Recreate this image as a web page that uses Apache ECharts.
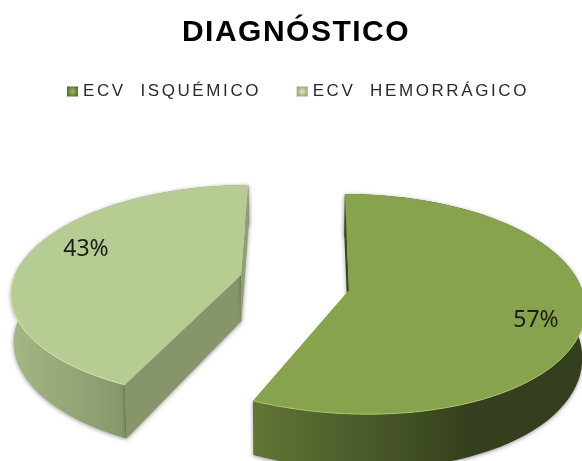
<!DOCTYPE html>
<html>
<head>
<meta charset="utf-8">
<style>html,body{margin:0;padding:0;background:#fff}#c{width:582px;height:461px}</style>
<script src="https://cdn.jsdelivr.net/npm/echarts@6/dist/echarts.min.js"></script>
</head>
<body>
<div id="c"></div>
<script>
var categories = ['ECV  ISQUÉMICO', 'ECV  HEMORRÁGICO'];
var percentValues = [57, 43];
var titleText = 'DIAGNÓSTICO';

var total = percentValues[0] + percentValues[1];
var VX = 295;               // horizontal vanishing axis of the perspective
var looks = [
  { ax: 349, ay: 290, D: 846, k: 0.128, R: 233, shx: 11, bx: 2, thick: 48, top: '#88a34e', rim: '#a9c466',
    wallA: '#637536', wallB: '#34401d', wallX: [253, 470], back: '#3a471f', cut: null, lx: 536, ly: 320 },
  { ax: 241, ay: 275, D: 663, k: 0.157, R: 226, shx: 6, bx: 0, thick: 46, top: '#b7cc93', rim: '#d3e6ae',
    wallA: '#a5b784', wallB: '#87966a', wallX: [11, 126], back: '#919f74', cut: '#87966a', lx: 86, ly: 249 }
];

function project(c, deg, lower) {
  var u = 0, v = 0;
  if (deg !== null) {
    var t = deg * Math.PI / 180;
    u = Math.sin(t); v = -Math.cos(t);
  }
  var s = 1 / (1 - c.k * v);
  var x = VX + (c.ax - VX + c.R * u) * s + (v > 0 ? c.shx : c.bx) * v * v;
  var y = c.ay + c.D * (s - 1);
  if (lower) { x = VX + (x - VX) * 0.99; y += c.thick * s; }
  return [x, y];
}

function makeRender(idx) {
  return function (params, api) {
    var c = looks[idx];
    var before = 0;
    for (var i = 0; i < idx; i++) before += percentValues[i];
    var value = api.value(0);
    var a0 = before / total * 360, a1 = (before + value) / total * 360;
    var upper = [], lowerPts = [];
    var n = 72;
    for (var j = 0; j <= n; j++) {
      var d = a0 + (a1 - a0) * j / n;
      upper.push(project(c, d)); lowerPts.push(project(c, d, true));
    }
    var apexT = project(c, null), apexB = project(c, null, true);
    var top = [apexT].concat(upper);
    var shadow = { shadowBlur: 4, shadowColor: 'rgba(0,0,0,0.4)', shadowOffsetY: 1 };
    var wall = upper.concat(lowerPts.slice().reverse());
    var wallFill = new echarts.graphic.LinearGradient(c.wallX[0], 0, c.wallX[1], 0,
      [{ offset: 0, color: c.wallA }, { offset: 1, color: c.wallB }], true);
    var kids = [];
    kids.push({ type: 'polygon', shape: { points: wall },
      style: Object.assign({ fill: wallFill }, shadow) });
    if (c.cut) {
      kids.push({ type: 'polygon',
        shape: { points: [apexT, project(c, a0), project(c, a0, true), apexB] },
        style: Object.assign({ fill: c.cut }, shadow) });
    }
    kids.push({ type: 'polygon',
      shape: { points: [project(c, 360), project(c, 360, true), apexB, apexT] },
      style: Object.assign({ fill: c.back }, shadow) });
    kids.push({ type: 'polygon', shape: { points: top }, style: { fill: c.top } });
    var rim = upper.filter(function (p, q) {
      var d = a0 + (a1 - a0) * q / n;
      return Math.cos(d * Math.PI / 180) < 0;
    });
    kids.push({ type: 'polyline', shape: { points: rim },
      style: { fill: 'none', stroke: c.rim, lineWidth: 1 } });
    kids.push({ type: 'text', x: c.lx, y: c.ly,
      style: { text: Math.round(value / total * 100) + '%', fill: '#1c1c1c',
        font: '23px "Noto Sans", sans-serif', textAlign: 'center', textVerticalAlign: 'middle' } });
    return { type: 'group', children: kids };
  };
}

var chart = echarts.init(document.getElementById('c'), null, { renderer: 'canvas' });
// the reference's title and legend text are widely set: put the spacing on their own layers
chart.getZr().painter.getLayer(1).ctx.letterSpacing = '2.6px';
chart.getZr().painter.getLayer(2).ctx.letterSpacing = '1.5px';

chart.setOption({
  animation: false,
  backgroundColor: '#ffffff',
  title: {
    zlevel: 2,
    text: titleText, left: 291, textAlign: 'center', top: 13,
    textStyle: { fontFamily: '"Liberation Sans"', fontWeight: 'bold', fontSize: 30, color: '#000000' }
  },
  legend: {
    zlevel: 1,
    data: [
      { name: categories[0], itemStyle: { color: new echarts.graphic.RadialGradient(0.5, 0.5, 0.6,
        [{ offset: 0, color: '#9fbc60' }, { offset: 1, color: '#55692c' }]) } },
      { name: categories[1], itemStyle: { color: new echarts.graphic.RadialGradient(0.5, 0.5, 0.6,
        [{ offset: 0, color: '#dbe8c4' }, { offset: 1, color: '#94a577' }]) } }
    ],
    left: 62, top: 78, icon: 'rect', itemWidth: 11, itemHeight: 10, itemGap: 72,
    textStyle: { fontFamily: '"Liberation Sans"', fontSize: 17, color: '#2a2a2a' }
  },
  series: categories.map(function (name, i) {
    return {
      type: 'custom', name: name, coordinateSystem: 'none', silent: true,
      renderItem: makeRender(i), data: [[percentValues[i]]],
      itemStyle: { color: looks[i].top }, clip: false
    };
  })
});
</script>
</body>
</html>
